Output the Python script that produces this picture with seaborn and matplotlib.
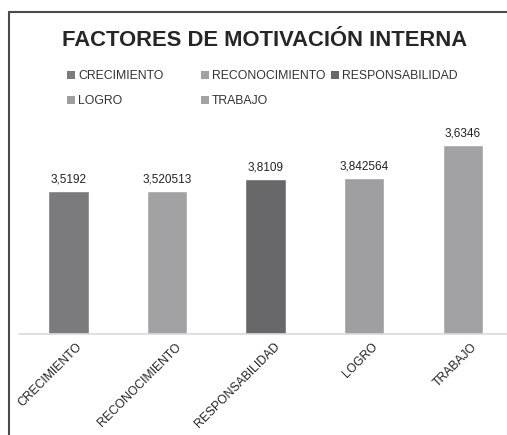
import matplotlib
matplotlib.use("Agg")
import matplotlib.pyplot as plt
import matplotlib.transforms as mtransforms
from matplotlib.patches import Patch
from matplotlib.lines import Line2D
import seaborn as sns
import pandas as pd

# Data (bar heights; labels as printed in the chart)
categories = ["CRECIMIENTO", "RECONOCIMIENTO", "RESPONSABILIDAD", "LOGRO", "TRABAJO"]
values = [3.5192, 3.520513, 3.8109, 3.842564, 4.6346]
value_labels = ["3,5192", "3,520513", "3,8109", "3,842564", "3,6346"]
colors = ["#7b7b7e", "#a2a2a5", "#68686a", "#9f9fa2", "#a2a2a5"]

sns.set_theme(style="white")
plt.rcParams["font.family"] = ["Liberation Sans", "DejaVu Sans"]

df = pd.DataFrame({"factor": categories, "valor": values})

# small epsilon so the canvas is exactly 507x435 px
fig = plt.figure(figsize=(5.0702, 4.3502), dpi=100)
ax = fig.add_axes([19 / 507, 101 / 435, 493 / 507, 203.5 / 435])

sns.barplot(data=df, x="factor", y="valor", hue="factor", palette=colors,
            width=0.41, legend=False, ax=ax, saturation=1)

ax.set_ylim(0, 5)
ax.set_xlim(-0.5, 4.5)
ax.set_xlabel("")
ax.set_ylabel("")
ax.set_yticks([])
for s in ["top", "right", "left"]:
    ax.spines[s].set_visible(False)
ax.spines["bottom"].set_color("#d9d9d9")
ax.spines["bottom"].set_linewidth(1.2)

for cont, lab in zip(ax.containers, value_labels):
    ax.bar_label(cont, labels=[lab], padding=4, fontsize=8.5, color="#222222")

ax.tick_params(axis="x", length=0, pad=2)
ax.set_xticks(range(len(categories)))
ax.set_xticklabels(categories, rotation=45, ha="right", va="top",
                   rotation_mode="anchor", fontsize=8.7, color="#222222")
offset = mtransforms.ScaledTranslation(8 / 100, -4 / 100, fig.dpi_scale_trans)
for t in ax.get_xticklabels():
    t.set_transform(t.get_transform() + offset)

fig.text(265 / 507, 1 - 40 / 435, "FACTORES DE MOTIVACIÓN INTERNA",
         ha="center", va="center", fontsize=15.8, fontweight="bold", color="#262626")

# legend entries, laid out like the original (3 + 2)
leg_pos = [(67, 76), (201, 76), (331, 76), (67, 101), (201, 101)]
for (px, py), name, c in zip(leg_pos, categories, colors):
    leg = fig.legend(handles=[Patch(facecolor=c, edgecolor="none")], labels=[name],
                     loc="center left", bbox_to_anchor=(px / 507, 1 - py / 435),
                     frameon=False, handlelength=0.65, handleheight=0.65,
                     handletextpad=0.25, borderpad=0, borderaxespad=0,
                     prop={"size": 8.8})
    for t in leg.get_texts():
        t.set_color("#333333")

# chart border (only left and top edges are visible in the crop)
bx, by = 8.5 / 507, 1 - 12 / 435
fig.add_artist(Line2D([bx, bx], [0, by], transform=fig.transFigure,
                      color="#4a4a4a", linewidth=1.5))
fig.add_artist(Line2D([bx, 1], [by, by], transform=fig.transFigure,
                      color="#4a4a4a", linewidth=1.5))

fig.savefig("out.png", dpi=100, facecolor="white", edgecolor="none")
